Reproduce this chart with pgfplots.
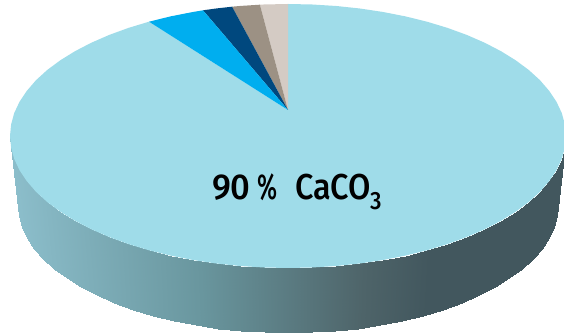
\documentclass[border=0pt]{standalone}
\usepackage{fontspec}
\setmainfont{Fira Sans}
\newfontfamily\labelfont{Fira Sans Medium}
\usepackage{pgfplots}
\pgfplotsset{compat=1.18}
\definecolor{mainslice}{RGB}{159,220,233}
\definecolor{cyanslice}{RGB}{0,174,239}
\definecolor{navyslice}{RGB}{0,72,126}
\definecolor{taupeslice}{RGB}{156,145,132}
\definecolor{sandslice}{RGB}{212,203,196}
\begin{document}
\begin{tikzpicture}
\path[use as bounding box] (0,0) rectangle (564pt,336pt);
\begin{axis}[
  at={(0,0)}, anchor=south west,
  scale only axis, width=564pt, height=336pt,
  xmin=0, xmax=564, ymin=0, ymax=336,
  hide axis,
  colormap={rim}{rgb255(0)=(140,190,203); rgb255(190)=(105,150,158); rgb255(354)=(78,100,105); rgb255(420)=(66,87,94); rgb255(556)=(66,87,94)},
  point meta min=10, point meta max=566,
]
% rim of the disc: upper and lower edge per column, shaded from left to right
\addplot[surf, shader=interp, mesh/cols=2, mesh/ordering=x varies, point meta=explicit]
  table[x=x, y=y, meta=c] {
x y c
10 200 10
18 131 10
11.1 188.5 11.1
19 119.8 11.1
14.2 177.1 14.2
22.1 108.8 14.2
19.5 165.8 19.5
27.2 97.9 19.5
26.8 154.9 26.8
34.3 87.2 26.8
36 144.2 36
43.3 76.9 36
47.2 134 47.2
54.2 67 47.2
60.3 124.3 60.3
66.8 57.6 60.3
75 115.2 75
81.2 48.7 75
91.4 106.7 91.4
97.1 40.5 91.4
109.3 98.9 109.3
114.4 33 109.3
128.5 91.9 128.5
133.1 26.1 128.5
149 85.7 149
153 20.1 149
170.5 80.4 170.5
173.9 15 170.5
192.9 76 192.9
195.7 10.7 192.9
216.1 72.5 216.1
218.1 7.4 216.1
239.7 70 239.7
241.1 4.9 239.7
263.8 68.5 263.8
264.5 3.5 263.8
288 68 288
288 3 288
312.2 68.5 312.2
311.5 3.5 312.2
336.3 70 336.3
334.9 4.9 336.3
359.9 72.5 359.9
357.9 7.4 359.9
383.1 76 383.1
380.3 10.7 383.1
405.5 80.4 405.5
402.1 15 405.5
427 85.7 427
423 20.1 427
447.5 91.9 447.5
442.9 26.1 447.5
466.7 98.9 466.7
461.6 33 466.7
484.6 106.7 484.6
478.9 40.5 484.6
501 115.2 501
494.8 48.7 501
515.7 124.3 515.7
509.2 57.6 515.7
528.8 134 528.8
521.8 67 528.8
540 144.2 540
532.7 76.9 540
549.2 154.9 549.2
541.7 87.2 549.2
556.5 165.8 556.5
548.8 97.9 556.5
561.8 177.1 561.8
553.9 108.8 561.8
564.9 188.5 564.9
557 119.8 564.9
566 200 566
558 131 566
};
% 90 % slice
\addplot[fill=mainslice, draw=none] coordinates {
(288,226) (288,332) (312.2,331.5) (336.3,330) (359.9,327.5) (383.1,324) (405.5,319.6)
(427,314.3) (447.5,308.1) (466.7,301.1) (484.6,293.3) (501,284.8) (515.7,275.7)
(528.8,266) (540,255.8) (549.2,245.1) (556.5,234.2) (561.8,222.9) (564.9,211.5)
(566,200) (564.9,188.5) (561.8,177.1) (556.5,165.8) (549.2,154.9) (540,144.2)
(528.8,134) (515.7,124.3) (501,115.2) (484.6,106.7) (466.7,98.9) (447.5,91.9)
(427,85.7) (405.5,80.4) (383.1,76) (359.9,72.5) (336.3,70) (312.2,68.5) (288,68)
(263.8,68.5) (239.7,70) (216.1,72.5) (192.9,76) (170.5,80.4) (149,85.7) (128.5,91.9)
(109.3,98.9) (91.4,106.7) (75,115.2) (60.3,124.3) (47.2,134) (36,144.2) (26.8,154.9)
(19.5,165.8) (14.2,177.1) (11.1,188.5) (10,200) (11.1,211.5) (14.2,222.9) (19.5,234.2)
(26.8,245.1) (36,255.8) (47.2,266) (60.3,275.7) (75,284.8) (91.4,293.3) (109.3,301.1)
(128.5,308.1) (149,314.3) } -- cycle;
% narrow slices, running anticlockwise from the top
\addplot[fill=sandslice, draw=none] coordinates {(288,226) (288,332) (263.8,331.5) (259.9,331.3)} -- cycle;
\addplot[fill=taupeslice, draw=none] coordinates {(288,226) (259.9,331.3) (239.7,330) (232.1,329.3)} -- cycle;
\addplot[fill=navyslice, draw=none] coordinates {(288,226) (232.1,329.3) (216.1,327.5) (203,325.7)} -- cycle;
\addplot[fill=cyanslice, draw=none] coordinates {(288,226) (203,325.7) (192.9,324) (170.5,319.6) (149,314.3)} -- cycle;
% label
\node[anchor=base west, inner sep=0pt, xscale=.96, font=\fontsize{36}{40}\selectfont\labelfont] at (axis cs:212,136) {90};
\node[anchor=base west, inner sep=0pt, xscale=.66, font=\fontsize{36}{40}\selectfont\labelfont] at (axis cs:257,136) {\%};
\node[anchor=base west, inner sep=0pt, xscale=.9, font=\fontsize{36}{40}\selectfont\labelfont] at (axis cs:295,136) {CaCO};
\node[anchor=base west, inner sep=0pt, xscale=.9, font=\fontsize{25}{28}\selectfont\labelfont] at (axis cs:370,126) {3};
\end{axis}
\end{tikzpicture}
\end{document}
